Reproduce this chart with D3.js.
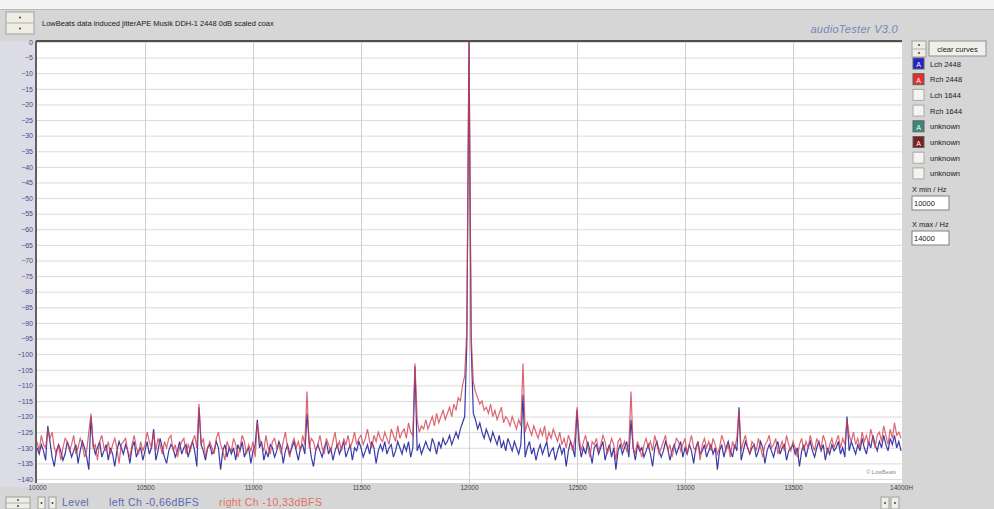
<!DOCTYPE html>
<html>
<head>
<meta charset="utf-8">
<script src="https://cdn.jsdelivr.net/npm/d3@7"></script>
<style>
  html, body { margin: 0; padding: 0; background: #d6d6d6; }
  svg { display: block; font-family: "Liberation Sans", Arial, sans-serif; }
</style>
</head>
<body>
<svg id="chart" width="994" height="509"></svg>
<script>
// Spectrum: 10 kHz .. 14 kHz, noise floor sampled every 10 Hz
const freqStart = 10000;
const freqStep = 10;

// right channel (red), dBFS, 10 values (100 Hz) per line
const rightNoise = [
  -128,-131,-126,-129,-130,-133,-127,-125,-130,-132,
  -129,-134,-130,-127,-128,-131,-129,-126,-132,-130,
  -127,-129,-133,-131,-125,-128,-130,-129,-134,-128,
  -126,-130,-131,-128,-132,-129,-127,-130,-135,-129,
  -128,-127,-131,-133,-129,-126,-130,-132,-128,-131,
  -129,-125,-128,-130,-134,-131,-127,-129,-132,-128,
  -130,-127,-126,-131,-129,-133,-130,-128,-127,-132,
  -129,-131,-128,-126,-130,-132,-129,-127,-133,-130,
  -128,-130,-132,-127,-125,-129,-131,-134,-128,-130,
  -131,-127,-129,-133,-130,-126,-128,-132,-129,-131,
  -128,-133,-130,-127,-129,-131,-126,-130,-132,-128,
  -127,-130,-129,-132,-128,-125,-130,-133,-129,-127,
  -130,-128,-131,-126,-129,-132,-130,-127,-128,-131,
  -129,-126,-130,-132,-127,-129,-131,-128,-125,-130,
  -128,-131,-127,-129,-126,-130,-128,-125,-129,-127,
  -126,-129,-127,-124,-128,-130,-126,-128,-125,-127,
  -128,-125,-127,-129,-124,-126,-128,-123,-127,-125,
  -124,-127,-122,-125,-126,-123,-121,-125,-123,-124,
  -121,-124,-122,-120,-123,-119,-122,-120,-118,-121,
  -119,-117,-120,-116,-118,-114,-115,-110,-107,-109,
  0,-107,-109,-112,-114,-116,-115,-118,-117,-119,
  -116,-120,-118,-121,-119,-117,-122,-120,-121,-123,
  -120,-122,-124,-121,-123,-122,-125,-122,-124,-126,
  -123,-125,-127,-124,-126,-123,-128,-125,-127,-124,
  -126,-128,-125,-129,-127,-130,-126,-128,-131,-127,
  -129,-127,-131,-128,-126,-130,-133,-128,-129,-127,
  -131,-129,-126,-128,-132,-130,-127,-129,-134,-128,
  -127,-130,-128,-131,-129,-126,-130,-132,-128,-130,
  -133,-129,-127,-130,-128,-131,-126,-129,-132,-130,
  -128,-126,-131,-129,-133,-130,-127,-128,-131,-129,
  -127,-132,-129,-126,-130,-131,-128,-134,-129,-127,
  -130,-128,-131,-127,-129,-132,-130,-126,-128,-131,
  -129,-133,-128,-130,-127,-129,-131,-128,-126,-130,
  -132,-128,-129,-131,-127,-130,-133,-129,-128,-126,
  -130,-129,-127,-132,-130,-128,-131,-126,-129,-131,
  -128,-130,-133,-129,-127,-131,-128,-130,-126,-129,
  -131,-127,-129,-130,-126,-128,-132,-129,-127,-130,
  -128,-126,-130,-127,-129,-131,-126,-128,-125,-129,
  -127,-130,-125,-128,-126,-129,-124,-127,-130,-126,
  -125,-128,-123,-126,-129,-124,-127,-122,-126,-125,
  -127
];

// left channel (blue), dBFS, 10 values (100 Hz) per line
const leftNoise = [
  -130,-132,-129,-131,-134,-130,-128,-133,-136,-131,
  -129,-131,-134,-132,-128,-130,-133,-131,-129,-135,
  -131,-128,-130,-133,-137,-131,-129,-132,-130,-128,
  -133,-131,-129,-134,-130,-132,-136,-131,-128,-130,
  -132,-129,-131,-135,-130,-128,-133,-131,-130,-134,
  -131,-128,-132,-130,-129,-134,-131,-127,-130,-133,
  -135,-131,-129,-130,-133,-131,-128,-132,-130,-129,
  -133,-130,-128,-131,-136,-132,-129,-131,-134,-130,
  -129,-132,-131,-128,-130,-137,-131,-129,-133,-130,
  -132,-130,-134,-129,-131,-128,-133,-131,-130,-135,
  -131,-129,-132,-130,-128,-134,-131,-133,-129,-130,
  -133,-131,-128,-130,-135,-131,-129,-132,-130,-128,
  -131,-134,-130,-129,-132,-130,-128,-133,-136,-131,
  -129,-131,-133,-130,-128,-132,-130,-134,-131,-129,
  -132,-130,-128,-133,-131,-129,-134,-130,-131,-128,
  -130,-133,-131,-129,-132,-128,-130,-135,-131,-129,
  -131,-128,-132,-130,-129,-133,-131,-128,-130,-132,
  -129,-131,-128,-133,-130,-128,-131,-129,-132,-130,
  -128,-130,-131,-127,-129,-132,-128,-130,-127,-129,
  -128,-126,-129,-127,-125,-127,-124,-122,-120,-118,
  0,-117,-119,-121,-124,-122,-125,-127,-124,-126,
  -128,-125,-127,-129,-126,-130,-128,-131,-127,-129,
  -131,-128,-130,-132,-129,-131,-133,-130,-128,-132,
  -130,-134,-131,-129,-132,-130,-128,-133,-131,-130,
  -134,-131,-129,-132,-130,-136,-131,-128,-130,-133,
  -131,-129,-133,-130,-132,-128,-131,-135,-130,-129,
  -132,-130,-128,-134,-131,-129,-133,-130,-137,-131,
  -129,-132,-130,-128,-133,-131,-130,-134,-129,-131,
  -130,-133,-131,-129,-132,-136,-130,-128,-131,-133,
  -131,-128,-130,-134,-131,-129,-132,-130,-128,-133,
  -130,-132,-129,-131,-135,-130,-128,-132,-131,-129,
  -133,-131,-129,-132,-130,-137,-131,-129,-133,-130,
  -128,-131,-133,-129,-131,-130,-134,-131,-128,-130,
  -132,-130,-129,-133,-131,-128,-130,-135,-131,-129,
  -131,-133,-130,-128,-132,-130,-129,-134,-131,-130,
  -129,-132,-130,-136,-131,-129,-133,-130,-128,-131,
  -133,-130,-128,-131,-129,-134,-130,-132,-129,-131,
  -130,-128,-132,-130,-133,-129,-131,-128,-130,-132,
  -129,-131,-127,-130,-132,-128,-130,-126,-129,-131,
  -128,-130,-126,-129,-131,-127,-129,-126,-130,-128,
  -131
];

// discrete lines (carrier, its skirt and jitter sidebands)
const spurFreq  = [10050, 10250, 10540, 10750, 11020, 11250, 11750, 11990, 12010, 12250, 12500, 12750, 13250, 13750];
const spurRight = [ -124,  -119,  -125,  -116,  -122,  -112,  -103,   -92,   -94,  -103,  -117,  -112,  -118,  -121];
const spurLeft  = [ -123,  -120,  -124,  -117,  -121,  -119,  -104,   -96,   -97,  -113,  -118,  -121,  -117,  -120];

// axis ticks
const yTicks = d3.range(-140, 1, 5);
const xTicks = [10000, 10500, 11000, 11500, 12000, 12500, 13000, 13500, 14000];
const xTickLabels = ["10000", "10500", "11000", "11500", "12000", "12500", "13000", "13500", "14000H"];

// side panel
const legendLabels = ["Lch 2448", "Rch 2448", "Lch 1644", "Rch 1644", "unknown", "unknown", "unknown", "unknown"];
const legendColors = ["#2222c8", "#e03030", null, null, "#3a8a7a", "#7a2020", null, null];
const titleText = "LowBeats data induced jitterAPE Musik DDH-1 2448 0dB scaled coax";
const levelLeft = "left Ch  -0,66dBFS";
const levelRight = "right Ch  -10,33dBFS";

function buildSeries(noise, spurs) {
  const pts = new Map();
  noise.forEach((v, i) => pts.set(freqStart + i * freqStep, v));
  spurFreq.forEach((f, i) => pts.set(f, spurs[i]));
  return Array.from(pts, ([f, v]) => ({ f, v })).sort((a, b) => a.f - b.f);
}
const rightSeries = buildSeries(rightNoise, spurRight);
const leftSeries = buildSeries(leftNoise, spurLeft);

const svg = d3.select("#chart");
const plot = { left: 37, right: 902, top: 41, bottom: 483 };
const x = d3.scaleLinear().domain([10000, 14000]).range([37, 901]);
const y = d3.scaleLinear().domain([-140, 0]).range([479, 42]);

// window chrome
svg.append("rect").attr("x", 0).attr("y", 0).attr("width", 994).attr("height", 509).attr("fill", "#d6d6d6");
svg.append("rect").attr("x", 0).attr("y", 0).attr("width", 994).attr("height", 9).attr("fill", "#f4f4f4");
svg.append("line").attr("x1", 0).attr("x2", 994).attr("y1", 9.5).attr("y2", 9.5).attr("stroke", "#b8b8b8");
svg.append("rect").attr("x", 0).attr("y", plot.top).attr("width", plot.left).attr("height", plot.bottom - plot.top + 4).attr("fill", "#dcdce6");

// small spin buttons
function spinButton(x0, y0, w, h) {
  const g = svg.append("g");
  g.append("rect").attr("x", x0).attr("y", y0).attr("width", w).attr("height", h)
    .attr("fill", "#eeeee4").attr("stroke", "#a0a0a0");
  g.append("line").attr("x1", x0).attr("x2", x0 + w).attr("y1", y0 + h / 2).attr("y2", y0 + h / 2).attr("stroke", "#b0b0b0");
  g.append("circle").attr("cx", x0 + w / 2).attr("cy", y0 + h / 4).attr("r", 0.9).attr("fill", "#333");
  g.append("circle").attr("cx", x0 + w / 2).attr("cy", y0 + 3 * h / 4).attr("r", 0.9).attr("fill", "#333");
}
spinButton(6, 12, 28, 22);
spinButton(6, 497, 24, 12);
spinButton(912, 41, 14, 16);

// title and program name
svg.append("text").attr("x", 42).attr("y", 26).attr("font-size", 7.5).attr("fill", "#202020").text(titleText);
svg.append("text").attr("x", 898).attr("y", 33).attr("text-anchor", "end").attr("font-size", 11)
  .attr("font-style", "italic").attr("fill", "#6f8ab8").attr("letter-spacing", 0.3).text("audioTester  V3.0");

// plot background
svg.append("rect").attr("x", plot.left).attr("y", plot.top).attr("width", plot.right - plot.left)
  .attr("height", plot.bottom - plot.top).attr("fill", "#ffffff");
svg.append("clipPath").attr("id", "plotClip").append("rect")
  .attr("x", plot.left).attr("y", plot.top).attr("width", plot.right - plot.left).attr("height", plot.bottom - plot.top);

// grid
svg.append("g").attr("transform", `translate(${plot.left},0)`)
  .call(d3.axisLeft(y).tickValues(yTicks).tickSize(-(plot.right - plot.left)).tickFormat(""))
  .call(g => g.select(".domain").remove())
  .call(g => g.selectAll("line").attr("stroke", "#dadada"));
svg.append("g").attr("transform", `translate(0,${plot.bottom})`)
  .call(d3.axisBottom(x).tickValues(xTicks.slice(1, -1)).tickSize(-(plot.bottom - plot.top)).tickFormat(""))
  .call(g => g.select(".domain").remove())
  .call(g => g.selectAll("line").attr("stroke", "#cfcfcf"));

// spectrum curves
const line = d3.line().x(d => x(d.f)).y(d => y(d.v));
const curves = svg.append("g").attr("clip-path", "url(#plotClip)");
curves.append("path").datum(leftSeries).attr("d", line).attr("fill", "none")
  .attr("stroke", "#26269e").attr("stroke-width", 1.2).attr("stroke-opacity", 0.9);
curves.append("path").datum(rightSeries).attr("d", line).attr("fill", "none")
  .attr("stroke", "#d23c4a").attr("stroke-width", 1.2).attr("stroke-opacity", 0.78);

// plot frame
svg.append("line").attr("x1", plot.left - 1).attr("x2", plot.right).attr("y1", plot.top).attr("y2", plot.top)
  .attr("stroke", "#505050").attr("stroke-width", 2);
svg.append("line").attr("x1", plot.left - 1).attr("x2", plot.left - 1).attr("y1", plot.top).attr("y2", plot.bottom)
  .attr("stroke", "#606060").attr("stroke-width", 2);
svg.append("text").attr("x", 896).attr("y", 474).attr("text-anchor", "end").attr("font-size", 5.5)
  .attr("fill", "#8a8a9a").text("© LowBeats");

// y axis labels
svg.append("g").attr("transform", `translate(${plot.left - 2},0)`)
  .call(d3.axisLeft(y).tickValues(yTicks).tickSize(0).tickPadding(2))
  .call(g => g.select(".domain").remove())
  .call(g => g.selectAll("text").attr("font-size", 7).attr("fill", "#4a4a8a").attr("font-family", "Liberation Sans, Arial, sans-serif"));

// x axis labels
svg.append("g").attr("transform", `translate(0,${plot.bottom})`)
  .call(d3.axisBottom(x).tickValues(xTicks).tickSize(0).tickPadding(2).tickFormat((d, i) => xTickLabels[i]))
  .call(g => g.select(".domain").remove())
  .call(g => g.selectAll("text").attr("font-size", 6.5).attr("fill", "#404050").attr("font-family", "Liberation Sans, Arial, sans-serif"));

// level readout
const lvl = svg.append("g").attr("font-size", 10.5).attr("letter-spacing", 0.4);
lvl.append("rect").attr("x", 38).attr("y", 497).attr("width", 7).attr("height", 12).attr("fill", "#eeeee4").attr("stroke", "#a0a0a0");
lvl.append("rect").attr("x", 49).attr("y", 497).attr("width", 7).attr("height", 12).attr("fill", "#eeeee4").attr("stroke", "#a0a0a0");
lvl.append("circle").attr("cx", 41.5).attr("cy", 503).attr("r", 0.9).attr("fill", "#333");
lvl.append("circle").attr("cx", 52.5).attr("cy", 503).attr("r", 0.9).attr("fill", "#333");
lvl.append("text").attr("x", 62).attr("y", 506).attr("fill", "#5a6ab0").text("Level");
lvl.append("text").attr("x", 109).attr("y", 506).attr("fill", "#5a6ab0").text(levelLeft);
lvl.append("text").attr("x", 219).attr("y", 506).attr("fill", "#e07060").text(levelRight);
svg.append("rect").attr("x", 881).attr("y", 497).attr("width", 8).attr("height", 12).attr("fill", "#eeeee4").attr("stroke", "#a0a0a0");
svg.append("rect").attr("x", 891).attr("y", 497).attr("width", 8).attr("height", 12).attr("fill", "#eeeee4").attr("stroke", "#a0a0a0");
svg.append("circle").attr("cx", 885).attr("cy", 503).attr("r", 0.9).attr("fill", "#333");
svg.append("circle").attr("cx", 895).attr("cy", 503).attr("r", 0.9).attr("fill", "#333");

// side panel: clear button and curve list
svg.append("rect").attr("x", 929).attr("y", 41).attr("width", 57).attr("height", 15)
  .attr("fill", "#f0f0ea").attr("stroke", "#909090");
svg.append("text").attr("x", 957.5).attr("y", 51.5).attr("text-anchor", "middle").attr("font-size", 7.5)
  .attr("fill", "#202020").text("clear curves");

const legend = svg.append("g").selectAll("g").data(legendLabels).join("g")
  .attr("transform", (d, i) => `translate(913,${58 + i * 15.7})`);
legend.append("rect").attr("width", 11).attr("height", 11)
  .attr("fill", (d, i) => legendColors[i] || "#f4f4f0")
  .attr("stroke", (d, i) => legendColors[i] ? "#606060" : "#a8a8a8");
legend.filter((d, i) => legendColors[i]).append("text").attr("x", 5.5).attr("y", 9).attr("text-anchor", "middle")
  .attr("font-size", 7).attr("fill", "#ffffff").text("A");
legend.append("text").attr("x", 17).attr("y", 8.5).attr("font-size", 7.5).attr("fill", "#202020").text(d => d);

// frequency range fields
function field(label, value, y0) {
  svg.append("text").attr("x", 912).attr("y", y0).attr("font-size", 7.5).attr("fill", "#202020").text(label);
  svg.append("rect").attr("x", 912).attr("y", y0 + 4).attr("width", 37).attr("height", 14)
    .attr("fill", "#ffffff").attr("stroke", "#808080");
  svg.append("text").attr("x", 914).attr("y", y0 + 14).attr("font-size", 7.5).attr("fill", "#202020").text(value);
}
field("X min / Hz", "10000", 192);
field("X max / Hz", "14000", 227);
</script>
</body>
</html>
